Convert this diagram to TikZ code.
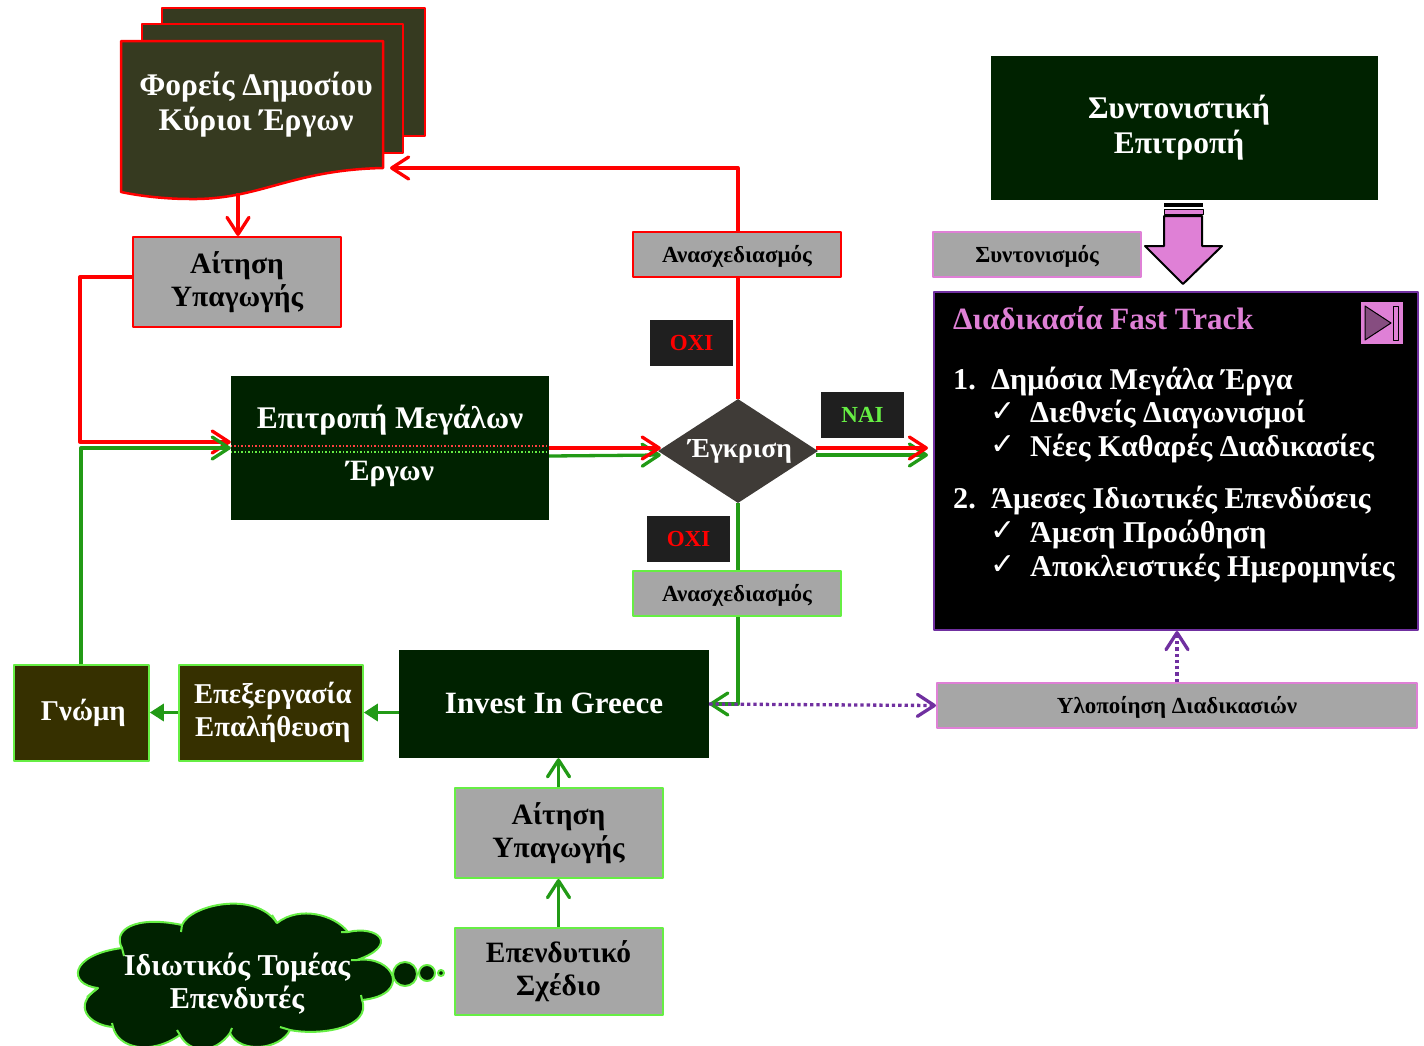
\documentclass[tikz,border=0pt]{standalone}
\usepackage{fontspec}
\setmainfont{Liberation Serif}
\newfontfamily\checkfont{DejaVu Sans}
\usetikzlibrary{arrows.meta,positioning,shapes.geometric}
\definecolor{DarkGreen}{HTML}{002200}
\definecolor{DocOlive}{HTML}{363A20}
\definecolor{BoxOlive}{HTML}{363000}
\definecolor{BoxGray}{HTML}{A6A6A6}
\definecolor{LineGreen}{HTML}{229A16}
\definecolor{LightGreen}{HTML}{66EE44}
\definecolor{Pink}{HTML}{DF80D6}
\definecolor{Violet}{HTML}{7030A0}
\definecolor{TagBlack}{HTML}{1F1F1F}
\definecolor{Rhomb}{HTML}{3F3B37}

\begin{document}
\begin{tikzpicture}[x=1pt,y=-1pt,line join=round]
    \useasboundingbox (0,0) rectangle (1424,1045);
    \tikzset{Box/.style = {inner sep=0pt, align=center, font=\fontsize{29.5}{33}\selectfont\bfseries}}
    \tikzset{BigFont/.style = {font=\fontsize{31.5}{35}\selectfont\bfseries}}
    \tikzset{GrayBox/.style = {Box, draw, line width=2pt, fill=BoxGray, text=black}}
    \tikzset{SmallBox/.style = {GrayBox, minimum width=208pt, minimum height=45pt, text depth=1.5pt, font=\fontsize{23}{26}\selectfont\bfseries}}
    \tikzset{GreenBox/.style = {Box, fill=DarkGreen, text=white}}
    \tikzset{OliveBox/.style = {Box, draw=LightGreen, line width=2pt, fill=BoxOlive, text=white, font=\fontsize{28.7}{33}\selectfont\bfseries}}
    \tikzset{TagBox/.style = {Box, fill=TagBlack, minimum width=83pt, minimum height=46pt, font=\fontsize{23}{26}\selectfont\bfseries}}
    \tikzset{ListText/.style = {anchor=base west, inner sep=0pt, text=white, font=\fontsize{30.2}{33}\selectfont\bfseries}}
    \tikzset{Check/.style = {anchor=base west, inner sep=0pt, text=white, font=\fontsize{30}{30}\selectfont\checkfont}}
    \tikzset{EdgeRed/.style = {draw=red, line width=3.3pt, -{Straight Barb[length=17pt,width=22pt,line width=3.3pt,round]}}}
    \tikzset{EdgeGreen/.style = {EdgeRed, draw=LineGreen}}
    \tikzset{EdgeViolet/.style = {EdgeRed, draw=Violet, line width=3.3pt, dash pattern=on 3.3pt off 3pt}}
    \tikzset{EdgeFill/.style = {draw=LineGreen, line width=3.3pt, -{Triangle[length=14pt,width=17pt]}}}

    % documents
    \draw[draw=red, line width=2.5pt, fill=DocOlive] (162,8) rectangle (425,136);
    \draw[draw=red, line width=2.5pt, fill=DocOlive] (142,24) rectangle (403,153);
    \draw[draw=red, line width=2.5pt, fill=DocOlive] (121,41) -- (383,41) -- (383,168)
        .. controls (290,170) and (260,200) .. (190,199) .. controls (165,199) and (140,196) .. (121,192) -- cycle;
    \node[Box, BigFont, text=white] (foreis) at (256,105) {Φορείς Δημοσίου\\Κύριοι Έργων};
    \coordinate (foreisS) at (238,193);
    \coordinate (foreisE) at (390,168);

    % main boxes
    \node[GrayBox, draw=red, minimum width=208pt, minimum height=90pt] (aitisiA) at (237,282) {Αίτηση\\Υπαγωγής};
    \node[GreenBox, minimum width=318pt, minimum height=144pt] (epitropi) at (390,448) {};
    \node[Box, BigFont, text=white] (epitropiT) at (390,420) {Επιτροπή Μεγάλων};
    \node[Box, text=white, below=26pt of epitropiT] (epitropiB) {Έργων};
    \node[diamond, Box, fill=Rhomb, text=white, aspect=1.54, minimum width=160pt, minimum height=104pt, font=\fontsize{27.5}{30}\selectfont\bfseries] (egkrisi) at (738,451) {\hspace{4pt}\raisebox{-4pt}{Έγκριση}};
    \node[SmallBox, draw=red] (anasA) at (737,254.5) {Ανασχεδιασμός};
    \node[SmallBox, draw=LightGreen] (anasB) at (737,593.5) {Ανασχεδιασμός};
    \node[TagBox, text=red] (oxiA) at (691.5,343) {ΟΧΙ};
    \node[TagBox, text=red] (oxiB) at (688.5,539) {ΟΧΙ};
    \node[TagBox, text=LightGreen] (nai) at (862.5,415) {ΝΑΙ};

    % invest chain
    \node[GreenBox, font=\fontsize{31}{35}\selectfont\bfseries, minimum width=310pt, minimum height=108pt] (invest) at (554,704) {\raisebox{2pt}{Invest In Greece}};
    \node[OliveBox, minimum width=184pt, minimum height=96pt, left=35pt of invest, yshift=-8.5pt] (epex) {\hspace{4pt}Επεξεργασία\\\hspace{4pt}Επαλήθευση};
    \node[OliveBox, minimum width=135pt, minimum height=96pt, left=28pt of epex] (gnomi) {\hspace{4pt}Γνώμη};
    \node[GrayBox, draw=LightGreen, minimum width=208pt, minimum height=90pt] (aitisiB) at (558.5,833) {Αίτηση\\Υπαγωγής};
    \node[GrayBox, draw=LightGreen, minimum width=208pt, minimum height=87pt, below=48pt of aitisiB] (ependytiko) {Επενδυτικό\\Σχέδιο};

    % cloud
    \draw[draw=LightGreen, line width=2pt, fill=DarkGreen] (122,948)
        .. controls (112,930) and (135,915) .. (182,925)
        .. controls (190,905) and (255,890) .. (277,923)
        .. controls (300,905) and (335,915) .. (348,932)
        .. controls (378,925) and (400,945) .. (357,960)
        .. controls (395,955) and (412,995) .. (362,1000)
        .. controls (372,1028) and (320,1036) .. (290,1030)
        .. controls (280,1050) and (240,1054) .. (230,1033)
        .. controls (215,1054) and (190,1054) .. (180,1035)
        .. controls (150,1056) and (118,1048) .. (113,1027)
        .. controls (88,1025) and (72,1005) .. (98,988)
        .. controls (68,985) and (68,955) .. (122,948) -- cycle;
    \draw[draw=LightGreen, line width=2pt] (122,948) -- (124,956) (182,925) -- (181,932) (277,923) -- (272,915)
        (348,932) -- (341,932) (357,960) -- (351,960) (362,1000) -- (361,995) (290,1030) -- (280,1027)
        (230,1033) -- (232,1028) (180,1035) -- (177,1030) (113,1027) -- (112,1023) (98,988) -- (87,997);
    \node[Box, font=\fontsize{30.3}{33}\selectfont\bfseries, text=white] (idiotikos) at (237,984) {Ιδιωτικός Τομέας\\Επενδυτές};
    \draw[draw=LightGreen, line width=2pt, fill=DarkGreen] (405,974) circle (12) (427,973) circle (8) (441,973) circle (3);

    % right column
    \node[GreenBox, BigFont, minimum width=387pt, minimum height=144pt] (syntonistiki) at (1184.5,128) {\hspace{-11pt}Συντονιστική\\\hspace{-11pt}Επιτροπή};
    \node[SmallBox, draw=Pink] (syntonismos) at (1037,254.5) {Συντονισμός};
    \node[draw=Violet, line width=2pt, fill=black, minimum width=484pt, minimum height=338pt, inner sep=0pt] (panel) at (1176,461) {};
    \node[SmallBox, draw=Pink, minimum width=480pt] (ylopoiisi) at (1177,705.5) {Υλοποίηση Διαδικασιών};

    % block arrow
    \draw[draw=black, line width=2pt, fill=Pink] (1164,216) -- (1202,216) -- (1202,246) -- (1222,246) -- (1183,284) -- (1145,246) -- (1164,246) -- cycle;
    \fill[black] (1164,203) rectangle (1203,207);
    \draw[black, line width=1pt, fill=Pink] (1164,209) rectangle (1203,214);

    % panel text
    \node[ListText, text=Pink, font=\fontsize{31}{33}\selectfont\bfseries] (titlos) at (953,329) {Διαδικασία Fast Track};
    \node[ListText] (numA) at (953,389) {1.};
    \node[ListText] (itemA) at (991,389) {Δημόσια Μεγάλα Έργα};
    \node[Check] (checkA) at (990,421) {✓};
    \node[ListText] (itemAA) at (1030,422) {Διεθνείς Διαγωνισμοί};
    \node[Check] (checkB) at (990,454) {✓};
    \node[ListText] (itemAB) at (1030,456) {Νέες Καθαρές Διαδικασίες};
    \node[ListText] (numB) at (953,508) {2.};
    \node[ListText] (itemB) at (991,508) {Άμεσες Ιδιωτικές Επενδύσεις};
    \node[Check] (checkC) at (990,540) {✓};
    \node[ListText] (itemBA) at (1030,542) {Άμεση Προώθηση};
    \node[Check] (checkD) at (990,574) {✓};
    \node[ListText] (itemBB) at (1030,576) {Αποκλειστικές Ημερομηνίες};

    % button
    \draw[fill=Pink, draw=none] (1361,302) rectangle (1403,344);
    \draw[black, line width=1pt, fill=Pink!60!black] (1365,306) -- (1391,323) -- (1365,340) -- cycle;
    \draw[black, line width=1pt] (1393,306) rectangle (1398,340);

    % edges
    \draw[EdgeRed] (foreisS) -- (aitisiA.north -| foreisS);
    \draw[EdgeRed] ([yshift=5pt]aitisiA.west) -- ++(-52,0) |- ([yshift=6pt]epitropi.west);
    \draw[EdgeGreen] (gnomi.north -| 81,0) |- (epitropi.west);
    \draw[EdgeGreen] ([yshift=-8pt]epitropi.east) -- ([xshift=3pt,yshift=-4pt]egkrisi.west);
    \draw[EdgeRed] (epitropi.east) -- ([xshift=3pt,yshift=3pt]egkrisi.west);
    \draw[draw=red!75!white, line width=1.5pt, dotted] ([yshift=2pt]epitropi.west) -- ([yshift=2pt]epitropi.east);
    \draw[draw=LightGreen, line width=1.5pt, dotted] ([yshift=-4pt]epitropi.west) -- ([yshift=-4pt]epitropi.east);
    \draw[EdgeGreen] ([xshift=-2pt,yshift=-4pt]egkrisi.east) -- ([xshift=-5pt,yshift=6pt]panel.west);
    \draw[EdgeRed] ([xshift=-2pt,yshift=3pt]egkrisi.east) -- ([xshift=-5pt,yshift=13pt]panel.west);
    \draw[draw=red, line width=3.3pt] (egkrisi.north) -- (egkrisi.north |- anasA.south);
    \draw[EdgeRed] (egkrisi.north |- anasA.north) |- (foreisE);
    \draw[draw=LineGreen, line width=3.3pt] (egkrisi.south) -- (egkrisi.south |- anasB.north);
    \draw[EdgeGreen] (egkrisi.south |- anasB.south) |- (invest.east);
    \draw[EdgeViolet] (invest.east) -- (ylopoiisi.west);
    \draw[EdgeViolet] (ylopoiisi.north) -- (panel.south -| ylopoiisi.north);
    \draw[EdgeFill] (invest.west |- epex.east) -- (epex.east);
    \draw[EdgeFill] (epex.west) -- (gnomi.east);
    \draw[EdgeGreen] (aitisiB.north) -- (invest.south -| aitisiB.north);
    \draw[EdgeGreen] (ependytiko.north) -- (aitisiB.south);
\end{tikzpicture}
\end{document}
